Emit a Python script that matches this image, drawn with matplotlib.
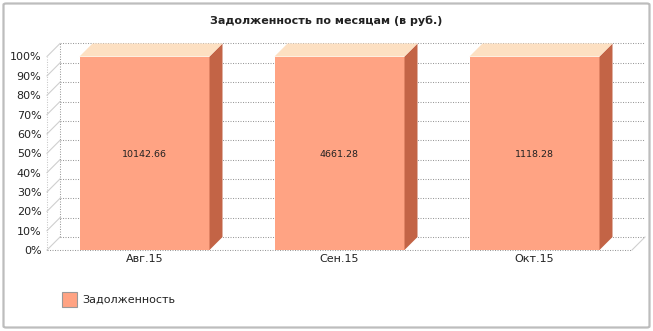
import matplotlib
matplotlib.use("Agg")
import matplotlib.pyplot as plt
from matplotlib.patches import Polygon, Rectangle, FancyBboxPatch

# ---- data ----
categories = ["Авг.15", "Сен.15", "Окт.15"]
value_labels = ["10142.66", "4661.28", "1118.28"]
percent = [100, 100, 100]
yticks = list(range(0, 101, 10))
ytick_labels = [f"{t}%" for t in yticks]
title = "Задолженность по месяцам (в руб.)"
legend_label = "Задолженность"

# ---- style ----
W, H = 653, 331
c_front = "#FFA383"
c_top = "#FDE0C2"
c_side = "#C36446"
grid_c = "#9a9a9a"
diag_c = "#cfcfcf"
txt_c = "#222222"

plt.rcParams['font.family'] = ['DejaVu Sans']

fig = plt.figure(figsize=(W / 100, H / 100), dpi=100)
fig.patch.set_facecolor("white")

# outer border
fig.patches.append(FancyBboxPatch((3.5 / W, 3.5 / H), (W - 7) / W, (H - 7) / H,
                                  boxstyle="round,pad=0,rounding_size=0.004",
                                  transform=fig.transFigure, fill=False,
                                  edgecolor="#bdbdbd", lw=1.6))

left_px, right_px, top_px, bot_px = 47, 632, 56.5, 250
ax = fig.add_axes([left_px / W, (H - bot_px) / H, (right_px - left_px) / W, (bot_px - top_px) / H])
ax.set_xlim(-0.5, len(categories) - 0.5)
ax.set_ylim(0, 100)
for s in ax.spines.values():
    s.set_visible(False)
ax.set_facecolor("none")

xpx = (right_px - left_px) / len(categories)
ypx = (bot_px - top_px) / 100
dpx = 13
dx = dpx / xpx
dy = dpx / ypx
x0, x1 = -0.5, len(categories) - 0.5

dot = dict(color=grid_c, lw=0.75, ls=(0, (1, 1.4)), clip_on=False, zorder=1)
# back wall gridlines
for t in yticks:
    ax.plot([x0 + dx, x1 + dx], [t + dy, t + dy], **dot)
    ax.plot([x0, x0 + dx], [t, t + dy], color=diag_c, lw=0.8, clip_on=False, zorder=1)
# walls edges
ax.plot([x0 + dx, x0 + dx], [dy, 100 + dy], **dot)
ax.plot([x0, x0], [0, 100], color="#c8c8c8", lw=0.75, ls=(0, (1, 1.4)), clip_on=False, zorder=1)
ax.plot([x0, x1], [0, 0], **dot)
ax.plot([x1, x1 + dx], [0, dy], color=diag_c, lw=0.8, clip_on=False, zorder=1)

# bars
bw = 130 / xpx
for i, (p, lab) in enumerate(zip(percent, value_labels)):
    bl, br = i - bw / 2, i + bw / 2
    ax.add_patch(Rectangle((bl, 0), bw, p, facecolor=c_front, edgecolor="none", zorder=3))
    ax.add_patch(Polygon([(br, 0), (br + dx, dy), (br + dx, p + dy), (br, p)], closed=True,
                         facecolor=c_side, edgecolor="none", zorder=3, clip_on=False))
    ax.add_patch(Polygon([(bl, p), (br, p), (br + dx, p + dy), (bl + dx, p + dy)], closed=True,
                         facecolor=c_top, edgecolor="none", zorder=3, clip_on=False))
    ax.text(i, p / 2, lab, ha="center", va="center_baseline", fontsize=6.8, color=txt_c, zorder=4)

ax.set_yticks(yticks)
ax.set_yticklabels(ytick_labels, fontsize=8, color=txt_c)
ax.set_xticks(range(len(categories)))
ax.set_xticklabels(categories, fontsize=8, color=txt_c)
ax.tick_params(axis="both", length=0)
ax.tick_params(axis="y", pad=4)
ax.tick_params(axis="x", pad=3)

fig.text(326.5 / W, 1 - 21 / H, title, ha="center", va="center", fontsize=8.0,
         fontweight="bold", color=txt_c)

# legend
fig.patches.append(Rectangle((62 / W, 1 - 307 / H), 15 / W, 15 / H, transform=fig.transFigure,
                             facecolor=c_front, edgecolor="#999999", lw=0.8))
fig.text(82 / W, 1 - 299.5 / H, legend_label, ha="left", va="center", fontsize=8, color=txt_c)

fig.savefig("out.png", dpi=100)
